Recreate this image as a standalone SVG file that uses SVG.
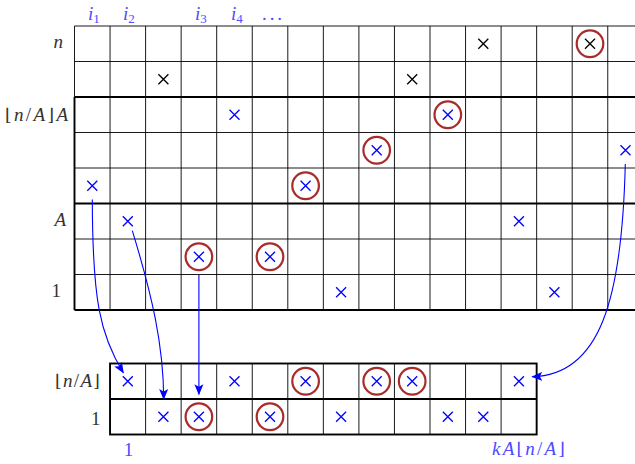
<svg xmlns="http://www.w3.org/2000/svg" xmlns:xlink="http://www.w3.org/1999/xlink" width="635" height="464" viewBox="0 0 635 464">
<style>
.thin{stroke:#000;stroke-width:0.9;fill:none}
.thick{stroke:#000;stroke-width:1.9;fill:none}
.xb{stroke:#0000ff;stroke-width:1.3;fill:none}
.xk{stroke:#000;stroke-width:1.3;fill:none}
.circ{stroke:#a82c2c;stroke-width:2.2;fill:none}
.lab{font-family:"Liberation Serif","DejaVu Serif",serif;font-size:19px;fill:#333}
.it{font-style:italic}
.br{font-family:"DejaVu Serif",serif;font-weight:normal;font-size:17px}
.blab{font-family:"Liberation Serif","DejaVu Serif",serif;font-size:19px;fill:#4b4bff}
.sub{font-size:13px}
.arr{stroke:#0000ff;stroke-width:1.1;fill:none;marker-end:url(#ah)}
</style>
<defs>
<path id="x" d="M-5,-5L5,5M-5,5L5,-5"/>
<marker id="ah" markerUnits="userSpaceOnUse" markerWidth="12" markerHeight="10" viewBox="0 0 12 10" refX="10" refY="5" orient="auto">
<path d="M0,0.5L11,5L0,9.5L2.5,5Z" fill="#0000ff"/>
</marker>
</defs>

<g id="top-grid">
<path class="thin" d="M74.5,26H635M74.5,61.5H635M74.5,132.5H635M74.5,168H635M74.5,239H635M74.5,274.5H635"/>
<path class="thin" d="M74.5,26V97M110.05,26V310M145.6,26V310M181.15,26V310M216.7,26V310M252.25,26V310M287.8,26V310M323.35,26V310M358.9,26V310M394.45,26V310M430,26V310M465.55,26V310M501.1,26V310M536.65,26V310M572.2,26V310M607.75,26V310"/>
<path class="thick" d="M74.5,97H635M74.5,203.5H635M74.5,310H635M74.5,97V310"/>
</g>

<g id="top-marks">
<use xlink:href="#x" class="xk" x="483.3" y="43.75"/>
<use xlink:href="#x" class="xk" x="590" y="43.75"/>
<circle class="circ" cx="590" cy="43.75" r="13.3"/>
<use xlink:href="#x" class="xk" x="163.4" y="79.25"/>
<use xlink:href="#x" class="xk" x="412.2" y="79.25"/>
<use xlink:href="#x" class="xb" x="234.5" y="114.75"/>
<use xlink:href="#x" class="xb" x="447.8" y="114.75"/>
<circle class="circ" cx="447.8" cy="114.75" r="13.3"/>
<use xlink:href="#x" class="xb" x="376.7" y="150.25"/>
<circle class="circ" cx="376.7" cy="150.25" r="13.3"/>
<use xlink:href="#x" class="xb" x="625.5" y="150.25"/>
<use xlink:href="#x" class="xb" x="92.3" y="185.75"/>
<use xlink:href="#x" class="xb" x="305.6" y="185.75"/>
<circle class="circ" cx="305.6" cy="185.75" r="13.3"/>
<use xlink:href="#x" class="xb" x="127.8" y="221.25"/>
<use xlink:href="#x" class="xb" x="518.9" y="221.25"/>
<use xlink:href="#x" class="xb" x="198.9" y="256.75"/>
<circle class="circ" cx="198.9" cy="256.75" r="13.3"/>
<use xlink:href="#x" class="xb" x="270" y="256.75"/>
<circle class="circ" cx="270" cy="256.75" r="13.3"/>
<use xlink:href="#x" class="xb" x="341.1" y="292.25"/>
<use xlink:href="#x" class="xb" x="554.4" y="292.25"/>
</g>

<g id="bottom-grid">
<path class="thin" d="M145.6,363.5V434.5M181.15,363.5V434.5M216.7,363.5V434.5M252.25,363.5V434.5M287.8,363.5V434.5M323.35,363.5V434.5M358.9,363.5V434.5M394.45,363.5V434.5M430,363.5V434.5M465.55,363.5V434.5M501.1,363.5V434.5"/>
<rect class="thick" x="110.05" y="363.5" width="426.6" height="71"/>
<path class="thick" d="M110.05,399H536.65"/>
</g>

<g id="bottom-marks">
<use xlink:href="#x" class="xb" x="127.8" y="381.25"/>
<use xlink:href="#x" class="xb" x="234.5" y="381.25"/>
<use xlink:href="#x" class="xb" x="305.6" y="381.25"/>
<circle class="circ" cx="305.6" cy="381.25" r="13.3"/>
<use xlink:href="#x" class="xb" x="376.7" y="381.25"/>
<circle class="circ" cx="376.7" cy="381.25" r="13.3"/>
<use xlink:href="#x" class="xb" x="412.2" y="381.25"/>
<circle class="circ" cx="412.2" cy="381.25" r="13.3"/>
<use xlink:href="#x" class="xb" x="518.9" y="381.25"/>
<use xlink:href="#x" class="xb" x="163.4" y="416.75"/>
<use xlink:href="#x" class="xb" x="198.9" y="416.75"/>
<circle class="circ" cx="198.9" cy="416.75" r="13.3"/>
<use xlink:href="#x" class="xb" x="270" y="416.75"/>
<circle class="circ" cx="270" cy="416.75" r="13.3"/>
<use xlink:href="#x" class="xb" x="341.1" y="416.75"/>
<use xlink:href="#x" class="xb" x="447.8" y="416.75"/>
<use xlink:href="#x" class="xb" x="483.3" y="416.75"/>
</g>

<g id="labels">
<text class="lab it" x="63" y="48" text-anchor="end">n</text>
<text class="lab" x="5" y="121" textLength="63" lengthAdjust="spacing"><tspan class="br">⌊</tspan><tspan class="it">n</tspan>/<tspan class="it">A</tspan><tspan class="br">⌋</tspan><tspan class="it">A</tspan></text>
<text class="lab it" x="66" y="226" text-anchor="end">A</text>
<text class="lab" x="61" y="297" text-anchor="end">1</text>
<text class="lab" x="55" y="387" textLength="45" lengthAdjust="spacing"><tspan class="br">⌊</tspan><tspan class="it">n</tspan>/<tspan class="it">A</tspan><tspan class="br">⌋</tspan></text>
<text class="lab" x="100.5" y="425" text-anchor="end">1</text>
<text class="blab it" x="88" y="20">i<tspan class="sub" dy="3" font-style="normal">1</tspan></text>
<text class="blab it" x="123" y="20">i<tspan class="sub" dy="3" font-style="normal">2</tspan></text>
<text class="blab it" x="195" y="20">i<tspan class="sub" dy="3" font-style="normal">3</tspan></text>
<text class="blab it" x="231" y="20">i<tspan class="sub" dy="3" font-style="normal">4</tspan></text>
<text class="blab" x="262" y="20" textLength="20" lengthAdjust="spacing">...</text>
<text class="blab" x="128.5" y="456" text-anchor="middle">1</text>
<text class="blab" x="492" y="455" textLength="73" lengthAdjust="spacing"><tspan class="it">kA</tspan><tspan class="br">⌊</tspan><tspan class="it">n</tspan>/<tspan class="it">A</tspan><tspan class="br">⌋</tspan></text>
</g>

<g id="connectors">
<path class="arr" d="M92.3,199.5C92.5,300 100,335 123.3,372.7"/>
<path class="arr" d="M132.3,230.7C152,295 163.5,345 163.7,399"/>
<path class="arr" d="M198.9,275V394.3"/>
<path class="arr" d="M625.3,164C622,300 600,375 532.3,376.7"/>
</g>
</svg>
